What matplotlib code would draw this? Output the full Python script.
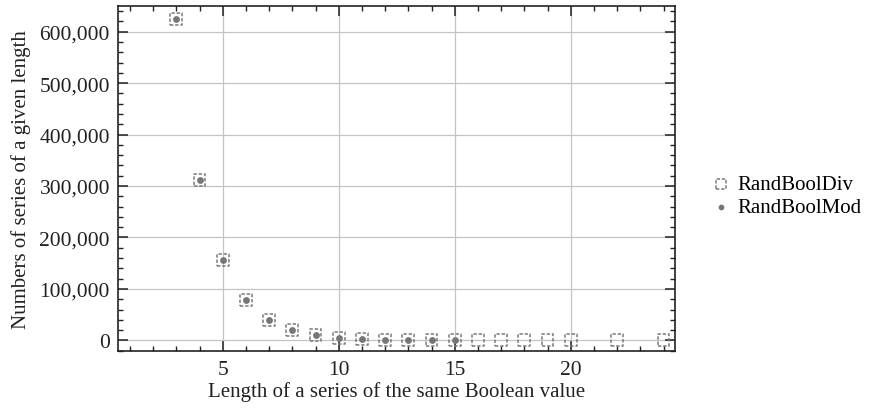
import numpy as np
import matplotlib.pyplot as plt
from matplotlib.ticker import MultipleLocator, FuncFormatter

plt.rcParams['font.family'] = ['Liberation Serif', 'DejaVu Serif']

div_len = [3, 4, 5, 6, 7, 8, 9, 10, 11, 12, 13, 14, 15, 16, 17, 18, 19, 20, 22, 24]
div_cnt = [625000, 312500, 156000, 78000, 39000, 19500, 9800, 4900, 2450, 1220,
           610, 305, 150, 76, 38, 19, 10, 5, 1, 1]
mod_len = [3, 4, 5, 6, 7, 8, 9, 10, 11, 12, 13, 14, 15]
mod_cnt = [625000, 312000, 157000, 79000, 40000, 19800, 10000, 4800, 2400, 1200,
           600, 300, 150]

fig = plt.figure(figsize=(8.7, 4.1), dpi=100)
ax = fig.add_axes([0.136, 0.141, 0.64, 0.842])

ax.grid(True, color='#c4c4c4', linewidth=0.9, zorder=0)
ax.scatter(div_len, div_cnt, marker='s', s=72, facecolors='none', edgecolors='#7a7a7a',
           linewidths=1.1, linestyles=(0, (2.2, 1.2)), label='RandBoolDiv', zorder=3)
ax.scatter(mod_len, mod_cnt, marker='o', s=15, color='#767676', label='RandBoolMod', zorder=4)

ax.set_xlim(0.5, 24.5)
ax.set_ylim(-21000, 650000)
ax.xaxis.set_major_locator(MultipleLocator(5))
ax.xaxis.set_minor_locator(MultipleLocator(1))
ax.yaxis.set_major_locator(MultipleLocator(100000))
ax.yaxis.set_minor_locator(MultipleLocator(20000))
ax.yaxis.set_major_formatter(FuncFormatter(lambda v, p: '{:,.0f}'.format(v)))
ax.tick_params(which='both', direction='in', top=True, right=True, labelsize=15.5,
               color='#222222', labelcolor='#222222')
ax.tick_params(which='major', length=7, width=1.1, pad=6)
ax.tick_params(which='minor', length=3.5, width=1.0)
for s in ax.spines.values():
    s.set_linewidth(1.2)
    s.set_color('#222222')

ax.set_xlabel('Length of a series of the same Boolean value', fontsize=15, color='#222222',
              labelpad=2)
ax.set_ylabel('Numbers of series of a given length', fontsize=15, color='#222222', labelpad=6)

ax.legend(loc='center left', bbox_to_anchor=(1.03, 0.45), frameon=False, fontsize=15,
          handletextpad=0.3, handlelength=1.0, labelspacing=0.15, markerscale=0.8)

fig.savefig('out.png', dpi=100)
